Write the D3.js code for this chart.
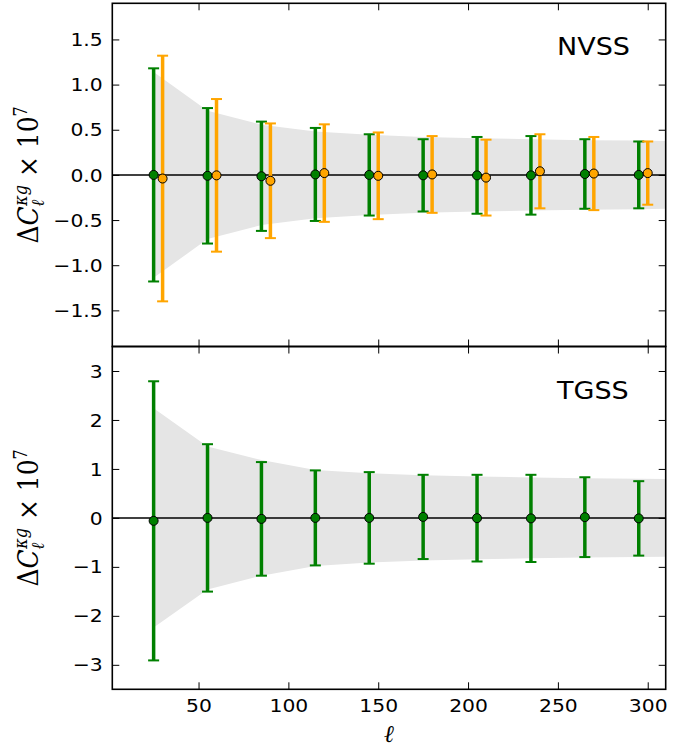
<!DOCTYPE html>
<html><head><meta charset="utf-8">
<script src="https://cdnjs.cloudflare.com/ajax/libs/d3/7.8.5/d3.min.js"></script>
<style>body{margin:0;background:#fff;} svg{display:block}</style>
</head><body>
<svg id="chart" width="686" height="753"></svg>
<script>
// ---- data ----
const ellGreen  = [25,55,85,115,145,175,205,235,265,295];
const ellOrange = [30,60,90,120,150,180,210,240,270,300];
const nvssGreenVal  = [0.00,-0.01,-0.015,0.005,0.00,-0.005,-0.005,-0.005,0.01,0.00];
const nvssGreenErr  = [1.18,0.75,0.605,0.515,0.45,0.40,0.425,0.435,0.385,0.37];
const nvssOrangeVal = [-0.04,-0.005,-0.065,0.02,-0.01,0.005,-0.03,0.04,0.015,0.02];
const nvssOrangeErr = [1.36,0.845,0.635,0.54,0.48,0.425,0.42,0.41,0.405,0.35];
const tgssGreenVal  = [-0.06,0.00,-0.02,0.00,0.00,0.02,-0.005,-0.01,0.015,-0.01];
const tgssGreenErr  = [2.85,1.505,1.16,0.97,0.935,0.86,0.885,0.89,0.815,0.76];
const bandEll  = [25,55,85,115,145,175,205,235,265,295,310];
const nvssBand = [1.14,0.71,0.555,0.48,0.445,0.42,0.405,0.395,0.385,0.38,0.375];
const tgssBand = [2.24,1.46,1.18,0.98,0.91,0.87,0.845,0.825,0.81,0.80,0.795];
const xTicks = [50,100,150,200,250,300];
const nvssYTicks = [-1.5,-1.0,-0.5,0.0,0.5,1.0,1.5];
const tgssYTicks = [-3,-2,-1,0,1,2,3];
const panelNames = ["NVSS","TGSS"];
const xLabel = "ℓ";

// ---- layout ----
const svg = d3.select("#chart");
const L = 112.3, R = 665.7;
const SX = 1.13; // horizontal text stretch seen in the reference
const x = d3.scaleLinear().domain([2,310]).range([L,R]);
const fmtMinus = s => s.replace("-", "\u2212");

function panel(cfg){
  const y = d3.scaleLinear().domain(cfg.ylim).range([cfg.bottom, cfg.top]);
  const g = svg.append("g");
  // band
  const area = d3.area().x((d,i)=>x(bandEll[i])).y0(d=>y(-d)).y1(d=>y(d));
  g.append("path").datum(cfg.band).attr("d", area).attr("fill", "#e5e5e5");
  // zero line
  g.append("line").attr("x1",L).attr("x2",R).attr("y1",y(0)).attr("y2",y(0))
    .attr("stroke","#000").attr("stroke-width",1.5);
  // error bars
  cfg.series.forEach(s=>{
    const sg = g.append("g");
    s.ell.forEach((e,i)=>{
      const v = s.val[i], er = s.err[i];
      const cx = x(e);
      sg.append("line").attr("x1",cx).attr("x2",cx).attr("y1",y(v-er)).attr("y2",y(v+er))
        .attr("stroke",s.color).attr("stroke-width",3.5);
      [v-er, v+er].forEach(c=>{
        sg.append("line").attr("x1",cx-5.5).attr("x2",cx+5.5).attr("y1",y(c)).attr("y2",y(c))
          .attr("stroke",s.color).attr("stroke-width",2);
      });
    });
    s.ell.forEach((e,i)=>{
      sg.append("circle").attr("cx",x(e)).attr("cy",y(s.val[i])).attr("r",4.5)
        .attr("fill",s.color).attr("stroke","#000").attr("stroke-width",1);
    });
  });
  // axes (ticks inside)
  const yl = g.append("g").attr("transform",`translate(${L},0)`)
    .call(d3.axisLeft(y).tickValues(cfg.yticks).tickSizeInner(-7).tickSizeOuter(0)
      .tickFormat(d=>fmtMinus(cfg.fmt(d))));
  yl.selectAll("text").attr("x",-8.5).attr("dy","0.34em")
    .attr("transform",`scale(${SX},1)`)
    .style("font-family","DejaVu Sans").style("font-size","18px").attr("fill","#000");
  g.append("g").attr("transform",`translate(${R},0)`)
    .call(d3.axisRight(y).tickValues(cfg.yticks).tickSizeInner(-7).tickSizeOuter(0).tickFormat(""));
  g.append("g").attr("transform",`translate(0,${cfg.top})`)
    .call(d3.axisTop(x).tickValues(xTicks).tickSizeInner(-7).tickSizeOuter(0).tickFormat(""));
  const xb = g.append("g").attr("transform",`translate(0,${cfg.bottom})`)
    .call(d3.axisBottom(x).tickValues(xTicks).tickSizeInner(-7).tickSizeOuter(0)
      .tickFormat(cfg.xlabels ? d3.format("d") : ""));
  xb.selectAll("text").attr("y",23).attr("dy","0")
    .attr("transform",`scale(${SX},1)`)
    .style("font-family","DejaVu Sans").style("font-size","18px").attr("fill","#000");
  g.selectAll(".domain").remove();
  g.selectAll(".tick line").attr("stroke","#000").attr("stroke-width",1);
  // spines
  g.append("rect").attr("x",L).attr("y",cfg.top).attr("width",R-L).attr("height",cfg.bottom-cfg.top)
    .attr("fill","none").attr("stroke","#000").attr("stroke-width",1.6);
  // panel name
  g.append("text").attr("transform",`translate(557,${cfg.top+52}) scale(1.08,1)`)
    .style("font-family","DejaVu Sans").style("font-size","25px").text(cfg.name);
  // y label
  const cy = (cfg.top+cfg.bottom)/2;
  const t = g.append("text").attr("transform",`translate(38,${cy}) scale(${SX},1) rotate(-90)`)
    .attr("text-anchor","middle").style("font-family","DejaVu Serif").style("font-size","25px");
  t.append("tspan").text("Δ");
  t.append("tspan").style("font-style","italic").text("C");
  t.append("tspan").style("font-style","italic").style("font-size","16px").attr("dy",5).text("ℓ");
  t.append("tspan").style("font-style","italic").style("font-size","16px").attr("dx",-6).attr("dy",-15).text("κg");
  t.append("tspan").attr("dy",10).text("\u00a0×\u00a010");
  t.append("tspan").style("font-size","16px").attr("dy",-10).text("7");
}

panel({top:3.3, bottom:346.5, ylim:[-1.9,1.9], yticks:nvssYTicks, fmt:d3.format(".1f"),
  band:nvssBand, name:panelNames[0], xlabels:false,
  series:[{ell:ellGreen,val:nvssGreenVal,err:nvssGreenErr,color:"#008000"},
          {ell:ellOrange,val:nvssOrangeVal,err:nvssOrangeErr,color:"#ffa500"}]});
panel({top:346.5, bottom:689.3, ylim:[-3.5,3.5], yticks:tgssYTicks, fmt:d3.format("d"),
  band:tgssBand, name:panelNames[1], xlabels:true,
  series:[{ell:ellGreen,val:tgssGreenVal,err:tgssGreenErr,color:"#008000"}]});

svg.append("text").attr("x",(L+R)/2).attr("y",742).attr("text-anchor","middle")
  .style("font-family","DejaVu Serif").style("font-style","italic").style("font-size","24px").text(xLabel);
</script>
</body></html>
